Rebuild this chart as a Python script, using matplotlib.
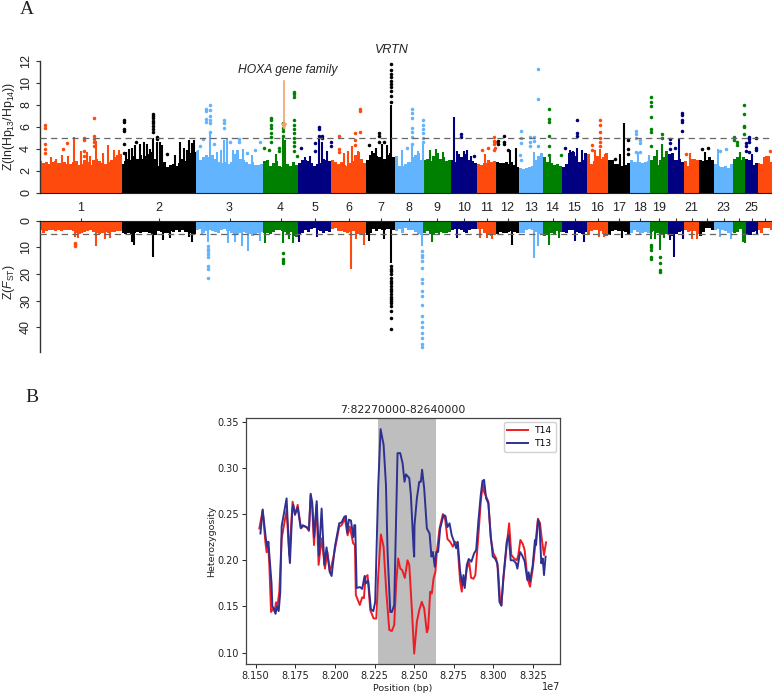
import numpy as np
import matplotlib
matplotlib.use("Agg")
import matplotlib.pyplot as plt
from matplotlib.ticker import FuncFormatter

plt.rcParams['font.family'] = ['Liberation Sans', 'DejaVu Sans']
plt.rcParams['mathtext.fontset'] = 'custom'
plt.rcParams['mathtext.rm'] = 'Liberation Sans'
plt.rcParams['mathtext.it'] = 'Liberation Sans:italic'

# ---------- panel A data ----------
chrom_labels = ['1','2','3','4','5','6','7','8','9','10','11','12','13','14','15','16','17','18','19','','21','','23','','25','']
chrom_lengths = [82,74.5,67,35,33,35,29,28,28,26,19,23,24,19,25,21,22,20,18,16,15,15,19,12,13,14]
chrom_colors = ['#ff4a0d', '#000000', '#63b4ff', '#008000', '#000080']
band_bins = [28,25,22,12,11,12,10,9,9,9,6,8,8,6,8,7,7,7,6,5,5,5,6,4,4,6]

top_band = [
 2.9,2.7,2.8,2.6,2.8,2.9,2.7,2.7,2.8,2.6,2.6,2.8,2.9,2.5,2.6,3.0,2.8,2.5,3.0,3.1,2.9,2.7,2.6,2.8,3.0,3.2,3.4,3.5,
 2.6,2.9,3.1,3.0,3.3,3.1,3.4,3.1,3.3,3.5,3.7,3.1,2.4,2.6,2.8,2.3,2.5,2.6,2.4,2.7,3.1,2.9,3.3,3.6,3.7,3.8,3.0,
 3.2,3.4,3.2,3.4,3.1,2.8,2.7,2.8,2.6,2.8,3.5,3.9,3.1,3.0,2.8,2.6,2.8,2.5,2.5,2.6,2.9,3.0,
 2.4,2.7,2.9,2.4,2.3,2.4,2.6,2.4,2.8,2.5,2.7,3.0,
 3.0,2.9,2.7,2.4,2.6,2.7,3.1,3.0,2.9,3.0,2.8,
 2.6,2.8,2.5,2.4,2.7,2.9,3.4,3.7,3.1,2.7,3.0,3.4,
 3.6,3.3,3.2,3.0,3.1,3.4,3.6,3.2,3.3,2.4,
 2.4,2.6,2.8,3.2,3.4,3.6,3.0,3.0,3.1,
 2.9,3.3,3.6,3.1,3.2,2.9,3.0,3.0,2.8,
 3.5,3.2,3.3,3.5,3.0,2.9,2.7,2.6,2.5,
 2.7,3.0,2.8,2.9,2.8,2.7,
 2.7,2.8,2.6,2.8,2.5,2.3,2.2,2.1,
 2.2,2.3,2.4,3.0,3.3,3.6,3.2,2.8,
 2.7,2.5,2.6,2.4,2.3,2.6,
 3.6,3.7,3.3,2.8,3.0,3.6,3.5,2.6,
 2.9,3.3,3.1,3.2,3.6,3.0,3.0,
 2.6,2.6,2.4,2.5,2.7,3.0,2.8,
 2.8,2.8,2.7,2.8,2.9,3.0,3.3,
 2.5,3.0,3.2,3.8,3.5,3.6,
 3.0,3.1,2.8,2.9,2.4,
 3.1,3.1,3.0,3.0,2.9,
 3.0,3.2,3.0,2.6,2.4,
 2.3,2.4,2.2,2.6,3.1,3.2,
 3.0,3.2,3.1,3.0,
 2.5,2.7,2.7,2.6,
 3.2,3.3,3.3,2.8,2.8,2.6]

low_band = [
 3.6,4.6,3.8,3.6,3.4,3.8,3.5,3.8,3.6,3.4,3.6,3.8,4.6,4.9,4.8,4.4,3.8,3.6,4.4,4.8,5.0,4.6,4.2,4.6,4.4,4.2,4.0,3.8,
 4.6,5.0,4.8,5.2,4.6,4.2,4.8,4.4,4.2,4.6,5.0,5.2,4.0,4.4,4.8,4.6,3.8,4.4,3.6,4.2,3.6,4.2,4.4,4.8,5.0,3.6,3.0,
 4.8,3.8,3.6,3.9,4.4,4.8,3.4,3.2,3.8,4.6,5.0,5.4,4.8,4.4,4.6,5.0,5.6,5.0,4.8,4.2,4.6,4.6,
 5.0,4.2,3.4,3.6,3.8,4.4,5.0,4.4,5.6,6.0,5.4,4.6,
 3.4,4.2,3.0,2.9,3.6,3.8,4.6,3.8,4.2,3.0,2.8,
 4.0,3.8,4.2,4.8,4.4,3.8,3.9,5.0,5.4,4.8,5.4,4.6,
 3.0,3.8,3.2,3.4,3.6,3.2,3.0,3.6,3.8,3.0,
 4.8,2.9,3.4,3.6,4.2,4.9,5.2,4.6,3.8,
 5.0,5.2,4.6,4.2,4.8,4.6,4.2,3.6,3.0,
 3.2,3.6,4.4,4.8,3.4,3.2,3.0,3.0,3.2,
 4.6,5.4,5.6,5.2,5.0,4.2,
 4.8,4.8,4.4,3.9,4.4,4.8,4.6,4.8,
 3.6,3.2,3.6,4.4,5.0,5.4,5.8,5.4,
 4.6,5.2,4.0,4.2,4.4,4.6,
 3.4,3.6,4.2,4.6,5.0,4.4,5.2,3.8,
 3.4,3.6,4.0,5.0,5.6,5.4,3.8,
 3.6,3.8,3.8,4.4,5.4,4.8,3.4,
 4.4,5.0,4.8,4.4,4.6,4.4,3.8,
 4.8,5.4,5.2,5.0,5.4,5.6,
 5.0,4.4,3.8,3.6,4.4,
 3.8,3.8,5.0,5.6,4.4,
 2.8,2.9,3.4,3.6,3.0,
 3.6,3.8,4.6,4.2,4.8,4.4,
 3.2,3.6,5.4,5.4,
 4.2,3.8,3.6,4.6,
 2.8,2.9,2.9,3.6,3.2,2.9]

top_stem_pos = [34.5,56.5,68,79,104,113,117,120,140.5,149,154,170,184.5,187,243,245.5,279,282,312,351,372,383,414,427,510,537,560,584.5,609,622,639,342,
 11,16,22,28,41,47,50,63,74,86,89,92,95,100,107,110,122,135,144,147,152,158,177,181,193,203,212,236,265,270,287,304,308,318,332,336,347,362,378,390,396,403,417,424,431,445,470,476,494,530,533,542,555,565,580,598,617,626,650,665,678,700,712]
top_stem_val = [5.1,4.7,4.3,3.9,4.6,5.0,4.6,4.6,4.6,4.8,4.8,5.4,4.8,5.0,5.0,4.8,4.9,4.6,4.2,8.0,4.2,4.4,6.9,3.9,3.2,4.1,4.0,6.3,3.4,4.4,5.0,4.4,
 3.2,3.1,3.4,3.3,3.8,3.7,3.3,3.6,3.9,3.7,4.0,4.1,4.3,4.4,4.4,4.0,4.3,3.4,4.1,3.9,4.5,3.9,3.7,3.9,3.9,4.0,3.4,3.5,3.2,3.3,3.8,3.6,3.8,3.8,3.8,4.1,4.3,3.9,3.8,3.9,4.0,3.7,3.8,3.8,3.3,3.5,3.9,4.1,3.7,3.9,3.8,3.9,3.9,3.5,3.5,3.7,3.9,3.6,3.6,3.7,4.0,3.7,3.5]

top_dot_pos = [5.5,23,27,44,54,84.5,96,113,117,127,160.5,163,166,170,174,184.5,190.5,199,207,215,220.5,224,229,231.5,239,243,254,257,261.5,275.5,279,282,291,299,315.5,320,329,339.5,344,351,367,372,383,421,434.5,442,448,454,455,458,464,468,480,481.5,490,494.5,498.5,509,521,525.5,537,552,560,575.5,588,596,600,611,622,630,635,642.5,646,662,668,680,686.5,694,697,704,706,709,716.5,730]
top_dot_vals = [[6.2,5.85,4.4,4.0,3.6],[4.0],[4.5],[5.0,4.8,3.8,3.3],[6.8,5.2,4.9,4.6,4.2],[6.6,6.4,5.8,5.6,4.4,3.6],[4.6],[7.2,7.0,6.8,6.5,6.3,6.1,5.8,5.5],[5.1,4.9],[3.5],
 [4.2],[4.9],[7.6,7.4,6.7,6.4],[7.95,7.5,7.0,6.6,6.3,5.5],[4.4],[6.6,6.3,5.9],[4.6],[4.9,4.6],[3.6],[3.9],[4.6],[4.1],[3.9],
 [6.8,6.6,6.2,5.9,5.4,5.1,4.6],[4.1,3.8],[6.3,5.9,5.6,5.2],[9.2,9.0,8.7,6.6,6.2,5.8,5.4,5.0,4.6,4.2,3.8],[3.3],[4.1],[4.5,3.8],[6.0,5.8,5.2],[5.2,5.0],[4.6,4.2],
 [5.2,4.0,3.7],[5.4,4.8,4.3],[7.6,7.4,5.5],[4.3],[5.4,5.2,4.6],[4.6],[11.7,11.2,10.8,10.5,10.2,9.9,9.6,9.3,8.8,8.3],[4.1],[7.6,7.3,6.8,5.9,5.5,5.1,4.4],
 [6.6,6.2,5.8,5.4,5.0,4.6],[5.3,5.1],[3.3],[3.9],[4.1],[5.1,4.7,4.4,3.9],[4.6,4.1],[4.7,4.4],[5.2,4.6,4.4],[3.9],[3.4],[5.6,5.0,4.5,3.0],[5.1,4.6,4.2],[5.1,4.7],[11.3,8.5,4.2],
 [7.6,6.7,6.4,5.2,4.2,3.4],[3.4],[4.1],[6.6,5.4,5.2],[4.3,3.9],[6.6,6.2,5.5,5.0,4.6,4.2],[3.1],[4.8,4.0,3.5],[5.6,5.3,5.0,3.7],[4.8,4.5,3.7],
 [8.7,8.3,7.9,6.9,5.8,5.5,4.2],[5.3,5.0],[4.9,4.5,4.0],[4.1],[7.3,7.1,6.6,6.4,5.6],[3.5],[4.0],[4.1],[3.8],[4.0],[5.1,4.8],[4.3,4.6],[8.0,7.2,6.1,6.0,5.3],[4.5,4.2,3.8],[5.1,4.9,4.6,3.7],[5.0,4.1,3.9],[3.8]]

low_stem_pos = [35,38,56,65.5,70.5,92,94,113,123,130.5,149,152,162,168,188,195.5,202,208,220.5,225,243,249,253,259.5,277,311.5,316.5,324,329.5,344,351,382,392,399,417,440,447,452,472,494,498,509,519,535.5,544.5,559,564,582,611,615.5,620,624,630,634,643,652,657,680.5,691,703,705.5,717]
low_stem_val = [6.2,6.5,9.5,7.0,6.5,8.0,9.0,13.8,7.3,6.5,6.0,8.0,5.5,8.0,8.5,8.0,9.5,11.3,7.8,8.3,8.5,7.0,8.3,8.0,6.0,18.0,7.0,9.0,7.8,7.0,16.0,9.5,8.0,5.5,6.5,6.5,6.5,7.0,9.0,14.0,9.5,9.0,6.5,7.5,8.0,6.0,6.0,6.5,7.0,7.0,11.0,6.5,7.3,13.5,7.0,7.0,7.0,6.0,7.0,8.0,8.5,5.5]

low_dot_pos = [35,168,243,351,382,611,620]
low_dot_vals = [[8.3,8.8,9.5],
 [9.5,10.5,11.5,12.5,13.5,17,18,21.5],
 [12,14.4,15,16],
 [17,18,19,20,21.5,22.5,23.5,24.5,25.5,26.5,27.5,28.5,29.5,30,31,32,34,36.5,40.5],
 [11.3,12.9,13.5,15,17.9,21.9,23.5,26.3,28.2,31.7,35.7,38,39.8,42,43.9,46.4,47.6],
 [9,10,11,13.5,14.5],
 [13.8,16,18.5,19.3]]

# ---------- panel B data ----------
t14_pos = [8.1523,8.1544,8.1561,8.1569,8.1578,8.1586,8.1597,8.1611,8.162,8.1628,8.1637,8.1649,8.1664,8.1695,8.1712,8.1733,8.1748,8.1765,8.1786,8.18,8.1821,8.1836,8.1847,8.1857,8.1868,8.1884,8.1897,8.1916,8.1937,8.1952,8.1968,8.1989,8.2027,8.2042,8.2063,8.208,8.2094,8.2115,8.2126,8.2132,8.2157,8.2172,8.2183,8.2193,8.2206,
 8.2223,8.2244,8.2261,8.2273,8.229,8.2307,8.2324,8.2343,8.2359,8.2374,8.2387,8.2399,8.2412,8.2424,8.2441,8.2458,8.2469,8.2485,8.25,8.2517,8.2532,8.2548,8.2563,8.258,8.2588,8.2601,8.2611,8.2622,8.2634,8.2643,8.266,8.2681,8.2695,8.271,8.2727,8.2744,8.2758,8.2773,8.279,8.28,8.2811,8.2821,8.2832,8.2847,8.2859,8.2874,8.2886,8.2905,8.292,8.2933,8.2941,8.2954,8.2968,8.2983,8.3,8.3017,8.3029,8.3042,8.305,8.3063,8.3084,8.3099,8.3113,8.313,8.3147,8.3157,8.317,8.3185,8.3197,8.321,8.3218,8.3231,8.3248,8.3264,8.3281,8.3294,8.3306,8.3319,8.3332]
t14_val = [.2345,.254,.22,.2086,.22,.195,.144,.148,.144,.1545,.15,.166,.2237,.254,.2057,.2634,.249,.26,.2345,.237,.236,.2317,.2706,.256,.2165,.26,.195,.2237,.191,.209,.187,.202,.2364,.238,.245,.227,.2364,.2183,.2165,.1624,.1516,.16,.159,.182,.184,
 .146,.137,.137,.184,.228,.2147,.166,.1245,.1235,.13,.177,.202,.191,.1895,.181,.2,.195,.148,.099,.1335,.146,.155,.148,.122,.126,.166,.164,.18,.1877,.209,.2345,.25,.245,.223,.22,.2147,.22,.218,.177,.166,.18,.177,.191,.198,.181,.18,.184,.227,.263,.283,.274,.269,.2634,.2237,.2075,.202,.191,.157,.151,.18,.2165,.24,.2057,.202,.2,.2057,.222,.2177,.211,.1877,.1786,.1714,.191,.2165,.245,.24,.222,.2057,.2194]

t13_pos = [8.153,8.1544,8.1565,8.1575,8.158,8.16,8.1605,8.1615,8.1625,8.1635,8.1645,8.1655,8.1664,8.1695,8.1712,8.1716,8.1731,8.1737,8.1748,8.1765,8.1784,8.1796,8.182,8.1836,8.1847,8.1857,8.1868,8.1885,8.1899,8.1916,8.1933,8.1947,8.1968,8.1979,8.2,8.2027,8.2042,8.2059,8.2069,8.2078,8.2088,8.2101,8.2116,8.2122,8.2128,8.2137,8.2158,8.2172,8.2187,8.2195,8.221,8.2227,8.2242,8.2254,8.2273,8.2288,
 8.2307,8.2322,8.2332,8.2349,8.2359,8.2374,8.2391,8.2395,8.2412,8.2427,8.2439,8.2448,8.2469,8.2479,8.2496,8.25,8.2502,8.2517,8.2532,8.2542,8.255,8.2563,8.258,8.2597,8.2609,8.2618,8.263,8.2639,8.2651,8.2664,8.2685,8.2697,8.271,8.2723,8.2737,8.2752,8.2765,8.2775,8.279,8.2805,8.2811,8.2819,8.2832,8.2844,8.2861,8.2878,8.2891,8.2905,8.292,8.2931,8.2941,8.2954,8.2968,8.2983,8.2996,8.301,8.3025,8.3038,8.305,8.3063,8.3084,8.3096,8.3109,8.3126,8.3143,8.3151,8.3168,8.318,8.3197,8.3214,8.3222,8.3231,8.3248,8.3262,8.3269,8.3281,8.329,8.3302,8.3311,8.3319,8.3329]
t13_val = [.229,.255,.222,.214,.22,.175,.15,.148,.142,.15,.145,.165,.237,.267,.205,.197,.255,.26,.25,.257,.235,.238,.236,.233,.272,.262,.225,.264,.205,.256,.195,.214,.187,.183,.215,.24,.241,.247,.248,.23,.244,.243,.225,.238,.238,.17,.171,.169,.183,.175,.178,.147,.145,.155,.28,.342,
 .325,.2815,.209,.144,.144,.1515,.285,.316,.316,.305,.285,.293,.289,.271,.213,.204,.238,.267,.285,.285,.298,.278,.2345,.229,.204,.209,.193,.209,.209,.2345,.249,.248,.236,.24,.227,.22,.213,.22,.1877,.173,.184,.17,.195,.2014,.1985,.2075,.211,.242,.2706,.286,.287,.267,.2616,.227,.204,.202,.1967,.155,.151,.182,.22,.227,.2,.2,.1967,.191,.209,.2057,.199,.1786,.187,.177,.195,.222,.2165,.2436,.24,.1967,.202,.184,.204]

highlight = (82270000, 82640000)
panel_title = '7:82270000-82640000'

# ---------- drawing ----------
W, H = 772, 693
fig = plt.figure(figsize=(W/100, H/100), dpi=100)

def axes_px(x0, y0, x1, y1):
    return fig.add_axes([x0/W, 1-y1/H, (x1-x0)/W, (y1-y0)/H])

starts = np.concatenate([[0], np.cumsum(chrom_lengths)[:-1]])
ends = np.cumsum(chrom_lengths)
centers = (starts+ends)/2

def color_of(g):
    i = int(np.searchsorted(ends, g))
    return chrom_colors[i % 5]

ax1 = axes_px(39.5, 61, 772, 192.5)
ax2 = axes_px(39.5, 220.7, 772, 351.7)
for ax, band, stem_p, stem_v, dot_p, dot_v in [
        (ax1, top_band, top_stem_pos, top_stem_val, top_dot_pos, top_dot_vals),
        (ax2, low_band, low_stem_pos, low_stem_val, low_dot_pos, low_dot_vals)]:
    k = 0
    for i, n in enumerate(band_bins):
        edges = np.linspace(starts[i], ends[i], n+1)
        ax.stairs(band[k:k+n], edges, baseline=0, fill=True, color=chrom_colors[i % 5], lw=0, zorder=2)
        k += n
    ax.vlines(stem_p, 0, stem_v, colors=[color_of(p) for p in stem_p], lw=1.5, zorder=2)
    for p, vals in zip(dot_p, dot_v):
        ax.scatter([p]*len(vals), vals, s=6.5, color=color_of(p), lw=0, zorder=2, clip_on=False)
    ax.axhline(5, color='#666666', lw=0.9, dashes=(5, 3.5), zorder=3)
    ax.set_xlim(0, ends[-1])
    ax.spines['right'].set_visible(False)
    ax.spines['left'].set_color('#333333')
    ax.spines['left'].set_linewidth(1.0)
    ax.tick_params(axis='y', labelsize=9, labelrotation=90, length=2.8, color='#333333', labelcolor='#222222', pad=2.5)

ax1.set_ylim(0, 12)
ax1.set_yticks(range(0, 13, 2))
ax1.spines['top'].set_visible(False)
ax1.spines['bottom'].set_color('#222222')
ax1.set_xticks([])
ax1.set_ylabel(r'Z(ln(Hp$_{13}$/Hp$_{14}$))', fontsize=8.8, color='#222222')
ax1.yaxis.set_label_coords(-22.5/732.5, 0.5)
for t in ax1.get_yticklabels():
    t.set_va('center')

ax2.set_ylim(49.2, 0)
ax2.set_yticks(range(0, 41, 10))
ax2.spines['bottom'].set_visible(False)
ax2.spines['top'].set_color('#222222')
ax2.xaxis.tick_top()
ax2.set_xticks(centers)
ax2.set_xticklabels(chrom_labels)
ax2.tick_params(axis='x', labelsize=9, length=2.5, color='#333333', labelcolor='#222222', pad=2)
ax2.set_ylabel(r'Z($\mathit{F}_{\mathrm{ST}}$)', fontsize=8.8, color='#222222')
ax2.yaxis.set_label_coords(-22.5/732.5, 0.53)
for t in ax2.get_yticklabels():
    t.set_va('center')

fig.text(20/W, 1-10/H, 'A', family='Liberation Serif', fontsize=14, va='center', ha='left', color='#222222')
fig.text(25/W, 1-398/H, 'B', family='Liberation Serif', fontsize=14, va='center', ha='left', color='#222222')
fig.text(392/W, 1-50/H, 'VRTN', style='italic', fontsize=9, va='center', ha='center', color='#222222')
fig.text(288/W, 1-70/H, 'HOXA gene family', style='italic', fontsize=8.7, va='center', ha='center', color='#222222')
ax1.annotate('', xy=(244.5, 5.7), xytext=(244.5, 10.2), zorder=5,
             arrowprops=dict(arrowstyle='-|>', color='#f4a26b', lw=1.2, mutation_scale=8, shrinkA=0, shrinkB=0))

# panel B
ax3 = axes_px(245.7, 418.3, 560, 664.3)
ax3.axvspan(*highlight, color='#bebebe', lw=0, zorder=1)
ax3.plot(np.array(t14_pos)*1e7, t14_val, color='#ee1c25', lw=1.4, label='T14', zorder=2)
ax3.plot(np.array(t13_pos)*1e7, t13_val, color='#2e3192', lw=1.4, label='T13', zorder=3)
ax3.set_xlim(8.1437e7, 8.342e7)
ax3.set_ylim(0.0874, 0.3537)
ax3.set_xticks(np.array([8.15,8.175,8.2,8.225,8.25,8.275,8.3,8.325])*1e7)
ax3.set_yticks([0.10,0.15,0.20,0.25,0.30,0.35])
ax3.set_yticklabels(['0.10','0.15','0.20','0.25','0.30','0.35'])
ax3.xaxis.set_major_formatter(FuncFormatter(lambda v, p: f'{v/1e7:.3f}'))
ax3.text(1.0, -0.093, '1e7', transform=ax3.transAxes, ha='right', va='center', fontsize=7, family='DejaVu Sans', color='#222222')
ax3.tick_params(labelsize=7, length=2.6, width=0.7, pad=2.5, color='#222222', labelcolor='#222222')
for t in ax3.get_xticklabels()+ax3.get_yticklabels():
    t.set_family('DejaVu Sans')
for s in ax3.spines.values():
    s.set_color('#444444')
    s.set_linewidth(0.9)
ax3.set_title(panel_title, fontsize=7.8, family='DejaVu Sans', pad=3.5, color='#222222')
ax3.set_xlabel('Position (bp)', fontsize=6.8, family='DejaVu Sans', labelpad=2, color='#222222')
ax3.set_ylabel('Heterozygosity', fontsize=6.8, family='DejaVu Sans', color='#222222')
ax3.yaxis.set_label_coords(-29.5/314.3, 0.5)
ax3.legend(loc='upper right', prop={'family': 'DejaVu Sans', 'size': 6.6}, borderaxespad=0.45, handlelength=2.2, labelspacing=0.45, fancybox=True, edgecolor='#cccccc', framealpha=0.9)

fig.savefig('out.png', dpi=100)
